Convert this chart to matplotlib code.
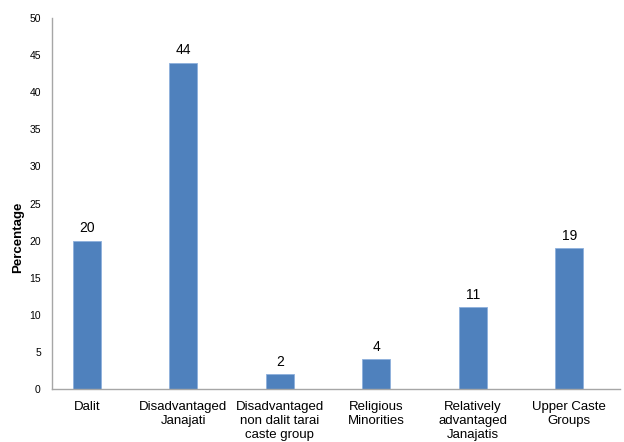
import matplotlib
matplotlib.use("Agg")
import matplotlib.pyplot as plt

categories = ["Dalit", "Disadvantaged\nJanajati", "Disadvantaged\nnon dalit tarai\ncaste group",
              "Religious\nMinorities", "Relatively\nadvantaged\nJanajatis", "Upper Caste\nGroups"]
values = [20, 44, 2, 4, 11, 19]
yticks = [0, 5, 10, 15, 20, 25, 30, 35, 40, 45, 50]

plt.rcParams['font.family'] = ['Liberation Sans', 'DejaVu Sans']

fig = plt.figure(figsize=(6.24, 4.42), dpi=100)
ax = fig.add_axes([0.0833, 0.12, 0.911, 0.839])

x = list(range(len(categories)))
bars = ax.bar(x, values, width=0.29, color="#4f81bd", edgecolor="#8db0dc", linewidth=0.6)
for xi, v in zip(x, values):
    ax.text(xi, v + 0.7, str(v), ha="center", va="bottom", fontsize=10, color="#000000")

ax.set_xlim(-0.36, 5.53)
ax.set_ylim(0, 50)
ax.set_yticks(yticks)
ax.set_yticklabels([str(t) for t in yticks], fontsize=7.5)
ax.set_xticks(x)
ax.set_xticklabels(categories, fontsize=9.5, linespacing=1.2)
ax.tick_params(axis="both", length=0)
ax.tick_params(axis="y", pad=8)
ax.tick_params(axis="x", pad=9)
for s in ["top", "right"]:
    ax.spines[s].set_visible(False)
for s in ["left", "bottom"]:
    ax.spines[s].set_color("#a6a6a6")
    ax.spines[s].set_linewidth(1.0)
ax.set_ylabel("Percentage", fontsize=9.5, fontweight="bold")
ax.yaxis.set_label_coords(-0.049, 0.41)

fig.savefig("out.png", dpi=100)
